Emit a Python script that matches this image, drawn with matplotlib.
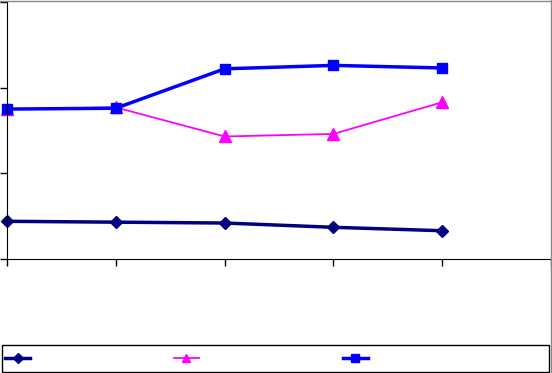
import matplotlib.pyplot as plt
from matplotlib.lines import Line2D
from matplotlib.patches import Rectangle

# categories (no labels shown in the chart)
categories = [0, 1, 2, 3, 4]
series_a = [0.44, 0.43, 0.42, 0.37, 0.33]   # navy diamonds
series_b = [1.75, 1.77, 1.43, 1.46, 1.83]   # magenta triangles
series_c = [1.75, 1.76, 2.22, 2.26, 2.23]   # blue squares

W, H = 552, 373
fig = plt.figure(figsize=(W / 100, H / 100), dpi=100)
ax = fig.add_axes([7 / W, (H - 259) / H, 544 / W, 257 / H])

ax.plot(categories, series_a, color="#000080", linewidth=2.5, marker="D", markersize=6.5, clip_on=False)
ax.plot(categories, series_b, color="#FF00FF", linewidth=1.3, marker="^", markersize=8, clip_on=False)
ax.plot(categories, series_c, color="#0000FF", linewidth=2.5, marker="s", markersize=7, clip_on=False)

ax.set_xlim(0, 5)
ax.set_ylim(0, 3)
ax.set_xticks(range(6))
ax.set_yticks([0, 1, 2, 3])
ax.set_xticklabels([])
ax.set_yticklabels([])
ax.tick_params(direction="out", length=5, width=1, color="black")
ax.spines["top"].set_visible(False)
ax.spines["right"].set_visible(False)

# outer chart border (top and right)
fig.add_artist(Line2D([0, 1], [1 - 0.5 / H, 1 - 0.5 / H], transform=fig.transFigure, color="#888888", linewidth=1))
fig.add_artist(Line2D([1 - 1.5 / W, 1 - 1.5 / W], [0, 1], transform=fig.transFigure, color="#888888", linewidth=1))

# legend box
fig.add_artist(Rectangle((2 / W, 1 / H), 547 / W, 27 / H, transform=fig.transFigure,
                         facecolor="white", edgecolor="black", linewidth=1))
handles = ax.get_lines()
fig.legend(handles, ["", "", ""], ncol=3, frameon=False, fontsize=10, markerscale=0.8,
           handlelength=1.8, handletextpad=0, columnspacing=10.35,
           loc="center left", bbox_to_anchor=(5 / W, 14.5 / H), borderpad=0, borderaxespad=0)

fig.savefig("out.png", dpi=100)
